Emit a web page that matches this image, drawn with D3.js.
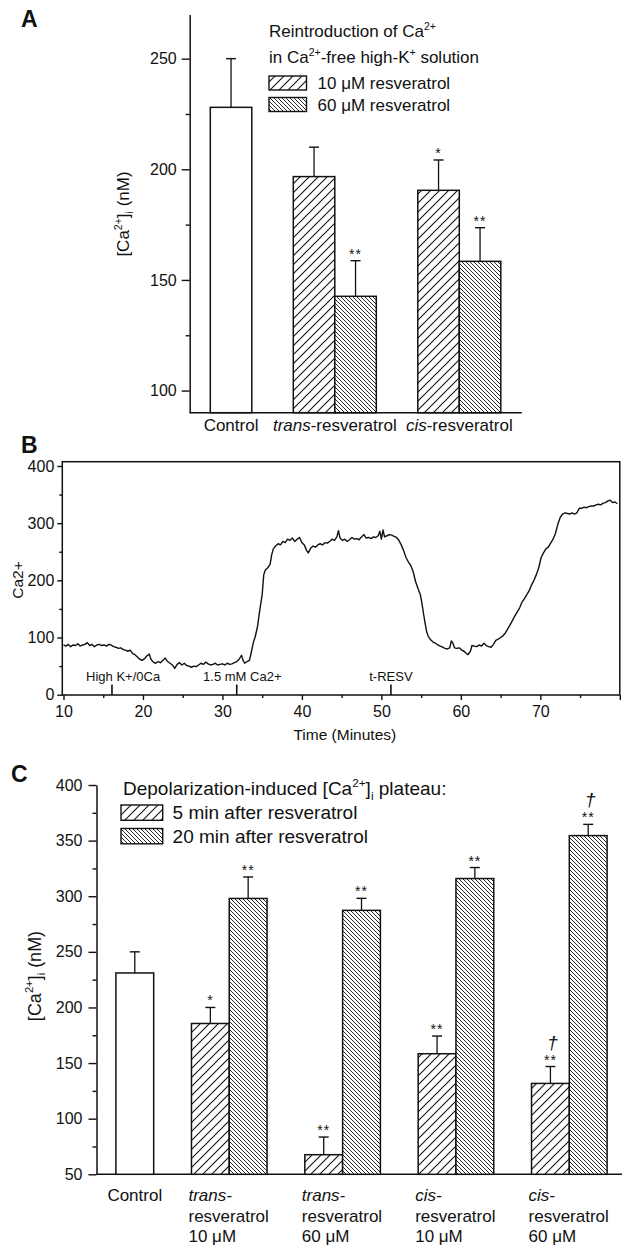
<!DOCTYPE html>
<html><head><meta charset="utf-8">
<script src="https://cdn.jsdelivr.net/npm/d3@7"></script>
<style>
body{margin:0;background:#fff}
svg{display:block}
text{font-family:"Liberation Sans",Arial,Helvetica,sans-serif;fill:#111}
</style></head>
<body><svg id="c" width="622" height="1245"></svg>
<script>
// ---------------- DATA ----------------
// Panel A
const aGroups = ["Control", "trans", "cis"];
const aSeries = ["10 \u03bcM resveratrol", "60 \u03bcM resveratrol"];
const aControlMean = 228, aControlSem = 22;
const aMean10 = [196.7, 190.5];
const aSem10 = [13.3, 13.7];
const aMean60 = [142.6, 158.4];
const aSem60 = [16.1, 15.2];
const aSig10 = ["", "*"];
const aSig60 = ["**", "**"];
const aTicks = [100, 150, 200, 250];
const aMinorTicks = [125, 175, 225];

// Panel B (time in minutes, [Ca2+] trace)
const bTime = [10.0,10.3,10.6,10.9,11.2,11.5,11.8,12.1,12.4,12.7,13.0,13.3,13.6,13.9,14.2,14.5,14.8,15.1,15.4,15.7,16.0,16.3,16.6,16.9,17.2,17.5,17.8,18.1,18.4,18.7,19.0,19.3,19.6,19.9,20.2,20.5,20.8,21.0,21.3,21.6,21.9,22.2,22.5,22.8,23.1,23.4,23.7,24.0,24.3,24.6,24.9,25.2,25.5,25.8,26.1,26.4,26.7,27.0,27.3,27.6,27.9,28.2,28.5,28.8,29.1,29.4,29.7,30.0,30.3,30.6,30.9,31.2,31.5,31.8,32.1,32.4,32.6,32.8,33.1,33.4,33.6,33.9,34.1,34.4,34.7,35.0,35.2,35.4,35.7,36.0,36.2,36.4,36.7,37.0,37.3,37.6,37.9,38.2,38.5,38.8,39.1,39.4,39.7,40.0,40.3,40.6,40.8,41.1,41.4,41.7,42.0,42.3,42.6,42.9,43.2,43.5,43.8,44.1,44.4,44.6,44.8,45.1,45.4,45.7,46.0,46.3,46.6,46.9,47.2,47.5,47.8,48.1,48.4,48.7,49.0,49.3,49.6,49.8,50.0,50.2,50.4,50.7,51.0,51.3,51.6,51.9,52.2,52.5,52.8,53.1,53.4,53.7,54.0,54.3,54.6,54.9,55.1,55.3,55.5,55.7,55.9,56.2,56.5,56.8,57.1,57.4,57.7,58.0,58.3,58.6,58.8,59.0,59.2,59.5,59.8,60.1,60.4,60.7,60.9,61.2,61.4,61.7,62.0,62.3,62.6,62.9,63.2,63.5,63.8,64.1,64.4,64.7,65.0,65.3,65.6,65.9,66.2,66.5,66.8,67.1,67.4,67.7,68.0,68.3,68.6,68.9,69.2,69.5,69.8,70.1,70.4,70.7,71.0,71.3,71.6,71.9,72.2,72.5,72.8,73.1,73.4,73.7,74.0,74.3,74.6,74.9,75.2,75.5,75.8,76.1,76.4,76.7,77.0,77.3,77.6,77.9,78.2,78.5,78.8,79.1,79.4,79.7];
const bCa = [87,85,88,84,87,86,89,85,87,88,91,86,88,84,87,88,86,87,85,88,87,84,83,81,82,79,78,76,78,72,70,66,62,60,63,68,71,62,57,55,58,56,60,64,58,55,52,46,53,56,52,55,51,50,48,50,49,52,55,53,57,54,52,53,55,52,53,54,52,55,53,54,56,58,62,69,60,55,58,60,72,92,100,118,148,175,210,218,222,228,245,255,260,264,262,268,266,272,270,274,268,272,275,266,262,252,248,256,260,258,262,264,262,266,265,268,272,270,276,287,274,270,272,268,271,275,272,273,271,276,280,274,275,273,276,275,278,286,272,288,276,278,280,279,277,275,270,262,252,240,232,226,215,198,186,175,160,142,125,110,102,96,92,90,87,85,83,81,80,82,94,90,82,81,82,78,76,72,70,76,86,85,84,87,85,90,86,84,83,88,95,97,100,103,108,115,122,130,138,145,152,162,168,175,182,192,200,210,222,240,248,255,258,265,272,282,298,310,316,318,317,316,318,316,318,326,326,328,327,329,330,330,332,333,332,335,336,339,340,336,337,334];
const bXTicks = [10, 20, 30, 40, 50, 60, 70, 80];
const bXTickLabels = ["10", "20", "30", "40", "50", "60", "70", ""];
const bXMinor = [15, 25, 35, 45, 55, 65, 75];
const bYTicks = [0, 100, 200, 300, 400];
const bYMinor = [50, 150, 250, 350];
const bEvents = ["High K+/0Ca", "1.5 mM Ca2+", "t-RESV"];
const bEventTimes = [16.1, 31.8, 51.2];
const bEventLabelTimes = [17.5, 32.5, 51.2];

// Panel C
const cGroupsLine1 = ["trans-", "trans-", "cis-", "cis-"];
const cGroupsLine2 = ["resveratrol", "resveratrol", "resveratrol", "resveratrol"];
const cGroupsLine3 = ["10 \u03bcM", "60 \u03bcM", "10 \u03bcM", "60 \u03bcM"];
const cSeries = ["5 min after resveratrol", "20 min after resveratrol"];
const cControlMean = 231, cControlSem = 19;
const cMean5 = [185.6, 67.6, 158.4, 131.7];
const cSem5 = [14.4, 15.9, 15.9, 15.2];
const cMean20 = [298.0, 287.3, 315.9, 354.5];
const cSem20 = [19.3, 10.8, 9.9, 10.1];
const cSig5 = ["*", "**", "**", "**"];
const cSig20 = ["**", "**", "**", "**"];
const cDagger5 = [false, false, false, true];
const cDagger20 = [false, false, false, true];
const cTicks = [50, 100, 150, 200, 250, 300, 350, 400];
const cMinorTicks = [75, 125, 175, 225, 275, 325, 375];

// ---------------- DRAWING ----------------
const svg = d3.select("#c");
const defs = svg.append("defs");
const INK = "#111";

function hatch(id, step, dir, sw) {
  const p = defs.append("pattern").attr("id", id).attr("patternUnits", "userSpaceOnUse")
    .attr("width", step).attr("height", step);
  p.append("rect").attr("width", step).attr("height", step).attr("fill", "#fff");
  const s = step, h = step / 2;
  const d = dir === "/"
    ? `M0,${s} L${s},0 M${-h},${h} L${h},${-h} M${h},${s + h} L${s + h},${h}`
    : `M0,0 L${s},${s} M${-h},${h} L${h},${s + h} M${h},${-h} L${s + h},${h}`;
  p.append("path").attr("d", d).attr("stroke", INK).attr("stroke-width", sw).attr("fill", "none");
}
hatch("hLow", 9, "/", 1.1);
hatch("hHigh", 4, "\\", 0.9);

function rich(g, x, y, parts, fs, anchor) {
  const t = g.append("text").attr("x", x).attr("y", y).attr("font-size", fs)
    .attr("text-anchor", anchor || "start");
  let shift = 0;
  parts.forEach(p => {
    const s = t.append("tspan").text(p.t);
    let target = 0;
    if (p.sup) { s.attr("font-size", fs * 0.62); target = -fs * 0.42; }
    else if (p.sub) { s.attr("font-size", fs * 0.62); target = fs * 0.25; }
    if (p.it) s.attr("font-style", "italic");
    if (target - shift !== 0) s.attr("dy", target - shift);
    shift = target;
  });
  return t;
}

function styleAxis(g, fs) {
  g.selectAll("path.domain").attr("stroke", INK).attr("stroke-width", 1.5);
  g.selectAll(".tick line").attr("stroke", INK).attr("stroke-width", 1.4);
  g.selectAll(".tick text").attr("font-size", fs).attr("fill", INK)
    .attr("font-family", '"Liberation Sans",Arial,sans-serif');
}

function panelLabel(txt, x, y) {
  svg.append("text").attr("x", x).attr("y", y).attr("font-size", 23).attr("font-weight", "bold").text(txt);
}

function bars(g, rows, xs, ys, y0) {
  const bw = xs.bandwidth();
  rows.forEach(r => {
    const x = xs(r.slot), cx = x + bw / 2;
    const top = ys(r.mean + r.sem);
    g.append("line").attr("x1", cx).attr("x2", cx).attr("y1", ys(r.mean)).attr("y2", top)
      .attr("stroke", INK).attr("stroke-width", 1.3);
    g.append("line").attr("x1", cx - 5).attr("x2", cx + 5).attr("y1", top).attr("y2", top)
      .attr("stroke", INK).attr("stroke-width", 1.4);
    g.append("rect").attr("x", x).attr("y", ys(r.mean)).attr("width", bw)
      .attr("height", ys(y0) - ys(r.mean)).attr("fill", r.fill)
      .attr("stroke", INK).attr("stroke-width", 1.5);
    if (r.sig) {
      g.append("text").attr("x", cx).attr("y", top - 2).attr("text-anchor", "middle")
        .attr("font-size", 14).attr("letter-spacing", 1).text(r.sig);
    }
    if (r.dagger) {
      g.append("text").attr("x", cx + 2).attr("y", top - 18).attr("text-anchor", "middle")
        .attr("font-size", 19).attr("font-style", "italic").text("\u2020");
    }
  });
}

// ===== Panel A =====
(function () {
  const g = svg.append("g");
  const y = d3.scaleLinear().domain([90, 270]).range([412.7, 14.4]);
  const nSlots = 1 + 1 + (aGroups.length - 1) * 3 - 1;
  const xs = d3.scaleBand().domain(d3.range(nSlots)).range([210.3, 500.8]).padding(0);
  const axisX = 189.7, axisRight = 521.8;

  const ga = g.append("g").attr("transform", `translate(${axisX},0)`)
    .call(d3.axisLeft(y).tickValues(aTicks).tickSize(8).tickPadding(5).tickSizeOuter(0));
  styleAxis(ga, 16);
  const gm = g.append("g").attr("transform", `translate(${axisX},0)`)
    .call(d3.axisLeft(y).tickValues(aMinorTicks).tickSize(4).tickFormat(""));
  gm.select("path.domain").remove();
  styleAxis(gm, 16);
  g.append("line").attr("x1", axisX).attr("x2", axisRight).attr("y1", y(90)).attr("y2", y(90))
    .attr("stroke", INK).attr("stroke-width", 1.6);

  const rows = [{ slot: 0, mean: aControlMean, sem: aControlSem, fill: "#fff", sig: "" }];
  for (let i = 0; i < aMean10.length; i++) {
    rows.push({ slot: 2 + 3 * i, mean: aMean10[i], sem: aSem10[i], fill: "url(#hLow)", sig: aSig10[i] });
    rows.push({ slot: 3 + 3 * i, mean: aMean60[i], sem: aSem60[i], fill: "url(#hHigh)", sig: aSig60[i] });
  }
  bars(g, rows, xs, y, 90);

  // category labels
  const bw = xs.bandwidth();
  rich(g, xs(0) + bw / 2, 431, [{ t: aGroups[0] }], 17, "middle");
  for (let i = 1; i < aGroups.length; i++) {
    const cx = xs(2 + 3 * (i - 1)) + bw;
    rich(g, cx, 431, [{ t: aGroups[i], it: true }, { t: "-resveratrol" }], 17, "middle");
  }
  // y label
  const yl = g.append("g").attr("transform", "translate(129,214) rotate(-90)");
  rich(yl, 0, 0, [{ t: "[Ca" }, { t: "2+", sup: true }, { t: "]" }, { t: "i", sub: true }, { t: " (nM)" }], 17, "middle");

  // legend
  rich(g, 269, 37, [{ t: "Reintroduction of Ca" }, { t: "2+", sup: true }], 17);
  rich(g, 269, 63, [{ t: "in Ca" }, { t: "2+", sup: true }, { t: "-free high-K" }, { t: "+", sup: true }, { t: " solution" }], 17);
  const fills = ["url(#hLow)", "url(#hHigh)"];
  const ly = [76, 97.5];
  aSeries.forEach((s, i) => {
    g.append("rect").attr("x", 269).attr("y", ly[i]).attr("width", 37.5).attr("height", 14)
      .attr("fill", fills[i]).attr("stroke", INK).attr("stroke-width", 1.4);
    g.append("text").attr("x", 317.5).attr("y", ly[i] + 13).attr("font-size", 17).text(s);
  });
  panelLabel("A", 21, 27);
})();

// ===== Panel B =====
(function () {
  const g = svg.append("g");
  const x = d3.scaleLinear().domain([9.85, 80]).range([62.3, 619.8]);
  const y = d3.scaleLinear().domain([0, 407.5]).range([694.7, 461.7]);
  g.append("rect").attr("x", 62.3).attr("y", 461.7).attr("width", 619.8 - 62.3).attr("height", 695 - 461.7)
    .attr("fill", "none").attr("stroke", INK).attr("stroke-width", 1.5);

  const gx = g.append("g").attr("transform", "translate(0,695)")
    .call(d3.axisBottom(x).tickValues(bXTicks).tickSize(5).tickPadding(6).tickSizeOuter(0)
      .tickFormat((d, i) => bXTickLabels[i]));
  gx.select("path.domain").remove();
  styleAxis(gx, 16);
  const gxm = g.append("g").attr("transform", "translate(0,695)")
    .call(d3.axisBottom(x).tickValues(bXMinor).tickSize(3).tickFormat(""));
  gxm.select("path.domain").remove();
  styleAxis(gxm, 16);

  const gy = g.append("g").attr("transform", "translate(62.3,0)")
    .call(d3.axisLeft(y).tickValues(bYTicks).tickSize(5).tickPadding(3).tickSizeOuter(0));
  gy.select("path.domain").remove();
  styleAxis(gy, 16);
  const gym = g.append("g").attr("transform", "translate(62.3,0)")
    .call(d3.axisLeft(y).tickValues(bYMinor).tickSize(3).tickFormat(""));
  gym.select("path.domain").remove();
  styleAxis(gym, 16);

  const pts = bTime.map((t, i) => [t, bCa[i]]);
  g.append("path").attr("d", d3.line().x(d => x(d[0])).y(d => y(d[1]))(pts))
    .attr("fill", "none").attr("stroke", INK).attr("stroke-width", 1.4).attr("stroke-linejoin", "round");

  bEvents.forEach((e, i) => {
    g.append("line").attr("x1", x(bEventTimes[i])).attr("x2", x(bEventTimes[i]))
      .attr("y1", 684.5).attr("y2", 695).attr("stroke", INK).attr("stroke-width", 1.6);
    g.append("text").attr("x", x(bEventLabelTimes[i])).attr("y", 681).attr("text-anchor", "middle")
      .attr("font-size", 13).text(e);
  });

  g.append("text").attr("x", 344.8).attr("y", 739.5).attr("text-anchor", "middle").attr("font-size", 15.5)
    .text("Time (Minutes)");
  g.append("text").attr("transform", "translate(23,580) rotate(-90)").attr("text-anchor", "middle")
    .attr("font-size", 15.5).text("Ca2+");
  panelLabel("B", 21, 453);
})();

// ===== Panel C =====
(function () {
  const g = svg.append("g");
  const y = d3.scaleLinear().domain([50, 400]).range([1174.3, 785]);
  const nSlots = 1 + cMean5.length * 3;
  const xs = d3.scaleBand().domain(d3.range(nSlots)).range([115.9, 607.1]).padding(0);
  const axisX = 96.5;

  const ga = g.append("g").attr("transform", `translate(${axisX},0)`)
    .call(d3.axisLeft(y).tickValues(cTicks).tickSize(8).tickPadding(6).tickSizeOuter(0));
  styleAxis(ga, 16);
  const gm = g.append("g").attr("transform", `translate(${axisX},0)`)
    .call(d3.axisLeft(y).tickValues(cMinorTicks).tickSize(4).tickFormat(""));
  gm.select("path.domain").remove();
  styleAxis(gm, 16);
  g.append("line").attr("x1", axisX).attr("x2", 622).attr("y1", y(50)).attr("y2", y(50))
    .attr("stroke", INK).attr("stroke-width", 1.6);

  const rows = [{ slot: 0, mean: cControlMean, sem: cControlSem, fill: "#fff", sig: "" }];
  for (let i = 0; i < cMean5.length; i++) {
    rows.push({ slot: 2 + 3 * i, mean: cMean5[i], sem: cSem5[i], fill: "url(#hLow)", sig: cSig5[i], dagger: cDagger5[i] });
    rows.push({ slot: 3 + 3 * i, mean: cMean20[i], sem: cSem20[i], fill: "url(#hHigh)", sig: cSig20[i], dagger: cDagger20[i] });
  }
  bars(g, rows, xs, y, 50);

  const bw = xs.bandwidth();
  g.append("text").attr("x", xs(0) + bw / 2).attr("y", 1201).attr("text-anchor", "middle")
    .attr("font-size", 17).text("Control");
  for (let i = 0; i < cMean5.length; i++) {
    const lx = xs(2 + 3 * i) - 3;
    g.append("text").attr("x", lx).attr("y", 1201).attr("font-size", 17).attr("font-style", "italic").text(cGroupsLine1[i]);
    g.append("text").attr("x", lx).attr("y", 1221.5).attr("font-size", 17).text(cGroupsLine2[i]);
    g.append("text").attr("x", lx).attr("y", 1242).attr("font-size", 17).text(cGroupsLine3[i]);
  }

  const yl = g.append("g").attr("transform", "translate(40.5,976) rotate(-90)");
  rich(yl, 0, 0, [{ t: "[Ca" }, { t: "2+", sup: true }, { t: "]" }, { t: "i", sub: true }, { t: " (nM)" }], 18, "middle");

  rich(g, 123, 795, [{ t: "Depolarization-induced [Ca" }, { t: "2+", sup: true }, { t: "]" }, { t: "i", sub: true }, { t: " plateau:" }], 19);
  const fills = ["url(#hLow)", "url(#hHigh)"];
  const ly = [805, 828.5];
  cSeries.forEach((s, i) => {
    g.append("rect").attr("x", 121).attr("y", ly[i]).attr("width", 41.7).attr("height", 15.3)
      .attr("fill", fills[i]).attr("stroke", INK).attr("stroke-width", 1.4);
    g.append("text").attr("x", 172.6).attr("y", ly[i] + 14.3).attr("font-size", 19).text(s);
  });
  panelLabel("C", 11, 782);
})();
</script></body></html>
